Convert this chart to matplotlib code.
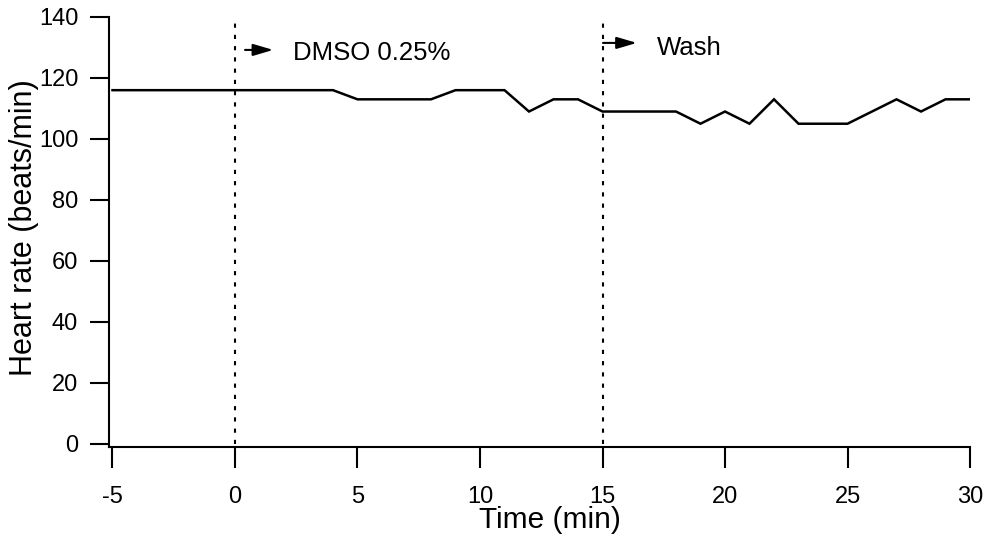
import matplotlib
matplotlib.use("Agg")
import matplotlib.pyplot as plt

plt.rcParams['font.family'] = ['Liberation Sans', 'DejaVu Sans']

# Heart rate sampled once per minute
time_min = list(range(-5, 31))
heart_rate = [116, 116, 116, 116, 116, 116, 116, 116, 116, 116,
              113, 113, 113, 113, 116, 116, 116, 109, 113, 113,
              109, 109, 109, 109, 105, 109, 105, 113, 105, 105,
              105, 109, 113, 109, 113, 113]

# Treatment events
event_times = [0, 15]
event_labels = ["DMSO 0.25%", "Wash"]

x_ticks = [-5, 0, 5, 10, 15, 20, 25, 30]
y_ticks = [0, 20, 40, 60, 80, 100, 120, 140]

fig = plt.figure(figsize=(9.89, 5.41), dpi=100)
ax = fig.add_axes([0.1099, 0.1738, 0.9808 - 0.1099, 0.9686 - 0.1738])

ax.plot(time_min, heart_rate, color='black', lw=1.8, solid_joinstyle='miter')

for t in event_times:
    ax.plot([t, t], [0, 140], color='black', lw=1.5, dashes=(2, 3.4))

# event arrows and labels
arrow_kw = dict(arrowstyle='-|>,head_length=1.22,head_width=0.36',
                mutation_scale=10, lw=1.5, color='black',
                shrinkA=0, shrinkB=0)
ax.annotate('', xy=(event_times[0] + 1.56, 129.2), xytext=(event_times[0] + 0.41, 129.2),
            arrowprops=arrow_kw)
ax.text(event_times[0] + 2.37, 125.9, event_labels[0], fontsize=18.5, va='baseline', ha='left')
ax.annotate('', xy=(event_times[1] + 1.4, 131.5), xytext=(event_times[1] + 0.02, 131.5),
            arrowprops=arrow_kw)
ax.text(event_times[1] + 2.22, 127.5, event_labels[1], fontsize=18.5, va='baseline', ha='left')

ax.set_xlim(-5.155, 30)
ax.set_ylim(-1, 140)
ax.set_xticks(x_ticks)
ax.set_yticks(y_ticks)
ax.set_xticklabels([str(v) for v in x_ticks])
ax.set_yticklabels([str(v) for v in y_ticks])

for side in ('top', 'right'):
    ax.spines[side].set_visible(False)
for side in ('left', 'bottom'):
    ax.spines[side].set_linewidth(1.5)

ax.tick_params(axis='y', direction='out', length=13.5, width=1.5, pad=8.5, labelsize=17)
ax.tick_params(axis='x', direction='out', length=15, width=1.5, pad=13, labelsize=17)

ax.set_xlabel("Time (min)", fontsize=21.5)
ax.set_ylabel("Heart rate (beats/min)", fontsize=22)
ax.xaxis.set_label_coords(0.512, -0.137)
ax.yaxis.set_label_coords(-0.081, 0.509)

fig.savefig("out.png", dpi=100)
